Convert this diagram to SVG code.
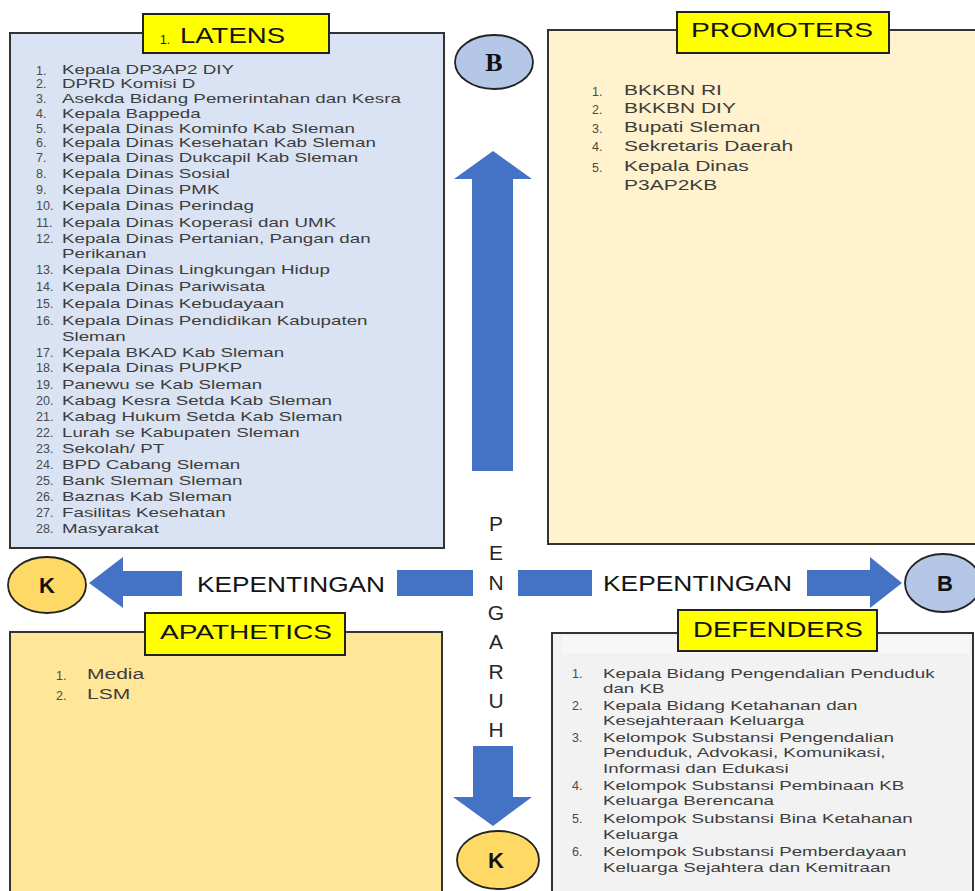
<svg xmlns="http://www.w3.org/2000/svg" width="975" height="891" viewBox="0 0 975 891">
<style>
.box{stroke:#333;stroke-width:2}
.lbl{fill:#ffff00;stroke:#222;stroke-width:2}
.t{font-family:"Liberation Sans",Arial,sans-serif;fill:#3d3d3d}
.n{font-family:"Liberation Sans",Arial,sans-serif;fill:#4a4a4a;font-size:12.5px}
.ls{font-size:13.4px}
.ps{font-size:15px}
.title{font-family:"Liberation Sans",Arial,sans-serif;fill:#141414}
.arrow{fill:#4472c4}
.circB{fill:#b4c7e7;stroke:#222;stroke-width:1.8}
.circK{fill:#ffd966;stroke:#222;stroke-width:1.8}
.cl{font-family:"Liberation Sans",Arial,sans-serif;font-weight:bold;font-size:22px;fill:#111;text-anchor:middle}
.peng{font-family:"Liberation Sans",Arial,sans-serif;font-size:21px;fill:#262626;text-anchor:middle}
</style>
<rect width="975" height="891" fill="#ffffff"/>

<g id="latens">
<rect class="box" x="10" y="33" width="434" height="515" fill="#dae3f3"/>
<rect class="lbl" x="143" y="14" width="186" height="39"/>
<text class="title" x="160" y="44" font-size="12">1.</text>
<text class="title" x="180" y="43" font-size="22.5" textLength="105" lengthAdjust="spacingAndGlyphs">LATENS</text>
<g class="n">
<text x="36" y="74.5">1.</text>
<text x="36" y="88">2.</text>
<text x="36" y="103">3.</text>
<text x="36" y="118">4.</text>
<text x="36" y="133">5.</text>
<text x="36" y="147">6.</text>
<text x="36" y="162">7.</text>
<text x="36" y="178">8.</text>
<text x="36" y="194">9.</text>
<text x="36" y="210">10.</text>
<text x="36" y="227">11.</text>
<text x="36" y="243">12.</text>
<text x="36" y="274">13.</text>
<text x="36" y="291">14.</text>
<text x="36" y="308">15.</text>
<text x="36" y="325">16.</text>
<text x="36" y="357">17.</text>
<text x="36" y="372">18.</text>
<text x="36" y="389">19.</text>
<text x="36" y="405">20.</text>
<text x="36" y="421">21.</text>
<text x="36" y="437">22.</text>
<text x="36" y="453">23.</text>
<text x="36" y="469">24.</text>
<text x="36" y="485">25.</text>
<text x="36" y="501">26.</text>
<text x="36" y="517">27.</text>
<text x="36" y="533">28.</text>
</g>
<g class="t ls" transform="translate(62,0) scale(1.4,1)">
<text x="0" y="74.5">Kepala DP3AP2 DIY</text>
<text x="0" y="88">DPRD Komisi D</text>
<text x="0" y="103">Asekda Bidang Pemerintahan dan Kesra</text>
<text x="0" y="118">Kepala Bappeda</text>
<text x="0" y="133">Kepala Dinas Kominfo Kab Sleman</text>
<text x="0" y="147">Kepala Dinas Kesehatan Kab Sleman</text>
<text x="0" y="162">Kepala Dinas Dukcapil Kab Sleman</text>
<text x="0" y="178">Kepala Dinas Sosial</text>
<text x="0" y="194">Kepala Dinas PMK</text>
<text x="0" y="210">Kepala Dinas Perindag</text>
<text x="0" y="227">Kepala Dinas Koperasi dan UMK</text>
<text x="0" y="243">Kepala Dinas Pertanian, Pangan dan</text>
<text x="0" y="258">Perikanan</text>
<text x="0" y="274">Kepala Dinas Lingkungan Hidup</text>
<text x="0" y="291">Kepala Dinas Pariwisata</text>
<text x="0" y="308">Kepala Dinas Kebudayaan</text>
<text x="0" y="325">Kepala Dinas Pendidikan Kabupaten</text>
<text x="0" y="341">Sleman</text>
<text x="0" y="357">Kepala BKAD Kab Sleman</text>
<text x="0" y="372">Kepala Dinas PUPKP</text>
<text x="0" y="389">Panewu se Kab Sleman</text>
<text x="0" y="405">Kabag Kesra Setda Kab Sleman</text>
<text x="0" y="421">Kabag Hukum Setda Kab Sleman</text>
<text x="0" y="437">Lurah se Kabupaten Sleman</text>
<text x="0" y="453">Sekolah/ PT</text>
<text x="0" y="469">BPD Cabang Sleman</text>
<text x="0" y="485">Bank Sleman Sleman</text>
<text x="0" y="501">Baznas Kab Sleman</text>
<text x="0" y="517">Fasilitas Kesehatan</text>
<text x="0" y="533">Masyarakat</text>
</g>
</g>

<g id="promoters">
<rect class="box" x="548" y="30" width="440" height="514" fill="#fff2cc"/>
<rect class="lbl" x="677" y="12" width="212" height="41"/>
<text class="title" x="691" y="37" font-size="21" textLength="182" lengthAdjust="spacingAndGlyphs">PROMOTERS</text>
<g class="n" font-size="14">
<text x="592" y="95.5">1.</text>
<text x="592" y="113.5">2.</text>
<text x="592" y="132.5">3.</text>
<text x="592" y="151">4.</text>
<text x="592" y="171.5">5.</text>
</g>
<g class="t ps" transform="translate(624,0) scale(1.4,1)">
<text x="0" y="95.5">BKKBN RI</text>
<text x="0" y="113.5">BKKBN DIY</text>
<text x="0" y="132.5">Bupati Sleman</text>
<text x="0" y="151">Sekretaris Daerah</text>
<text x="0" y="171.5">Kepala Dinas</text>
<text x="0" y="190">P3AP2KB</text>
</g>
</g>

<g id="apathetics">
<rect class="box" x="10" y="632" width="432" height="270" fill="#ffe699"/>
<rect class="lbl" x="145" y="613" width="200" height="42"/>
<text class="title" x="160" y="639" font-size="21" textLength="172" lengthAdjust="spacingAndGlyphs">APATHETICS</text>
<g class="n" font-size="14">
<text x="56" y="679.5">1.</text>
<text x="56" y="699.5">2.</text>
</g>
<g class="t ps" transform="translate(87,0) scale(1.4,1)">
<text x="0" y="679.5">Media</text>
<text x="0" y="699.5">LSM</text>
</g>
</g>

<g id="defenders">
<rect class="box" x="552" y="633" width="421" height="270" fill="#f2f2f2"/>
<rect x="562" y="636" width="408" height="17" fill="#f7f7f7"/>
<rect class="lbl" x="678" y="610" width="199" height="41"/>
<text class="title" x="693" y="637" font-size="22" textLength="170" lengthAdjust="spacingAndGlyphs">DEFENDERS</text>
<g class="n">
<text x="572" y="678">1.</text>
<text x="572" y="710">2.</text>
<text x="572" y="742">3.</text>
<text x="572" y="790">4.</text>
<text x="572" y="823">5.</text>
<text x="572" y="856">6.</text>
</g>
<g class="t ls" transform="translate(603,0) scale(1.4,1)">
<text x="0" y="678">Kepala Bidang Pengendalian Penduduk</text>
<text x="0" y="693">dan KB</text>
<text x="0" y="710">Kepala Bidang Ketahanan dan</text>
<text x="0" y="725">Kesejahteraan Keluarga</text>
<text x="0" y="742">Kelompok Substansi Pengendalian</text>
<text x="0" y="757">Penduduk, Advokasi, Komunikasi,</text>
<text x="0" y="773">Informasi dan Edukasi</text>
<text x="0" y="790">Kelompok Substansi Pembinaan KB</text>
<text x="0" y="805">Keluarga Berencana</text>
<text x="0" y="823">Kelompok Substansi Bina Ketahanan</text>
<text x="0" y="839">Keluarga</text>
<text x="0" y="856">Kelompok Substansi Pemberdayaan</text>
<text x="0" y="872">Keluarga Sejahtera dan Kemitraan</text>
</g>
</g>

<g id="connectors">
<polygon class="arrow" points="493,151 532,179 513,179 513,471 472,471 472,179 454,179"/>
<polygon class="arrow" points="493,826 532,797 513,797 513,746 473,746 473,797 453,797"/>
<polygon class="arrow" points="89,583 123,557 123,571 182,571 182,596 123,596 123,608"/>
<polygon class="arrow" points="902,583 870,557 870,570 807,570 807,596 870,596 870,608"/>
<rect class="arrow" x="397" y="570" width="76" height="26"/>
<rect class="arrow" x="518" y="570" width="74" height="26"/>
</g>

<g id="axis-labels">
<text class="title" x="197" y="592" font-size="22.5" textLength="188" lengthAdjust="spacingAndGlyphs" fill="#262626">KEPENTINGAN</text>
<text class="title" x="603" y="591" font-size="22.5" textLength="189" lengthAdjust="spacingAndGlyphs" fill="#262626">KEPENTINGAN</text>
<text class="peng" x="496" y="530.5">P</text>
<text class="peng" x="496" y="559.5">E</text>
<text class="peng" x="496" y="589.5">N</text>
<text class="peng" x="496" y="619.5">G</text>
<text class="peng" x="496" y="648.5">A</text>
<text class="peng" x="496" y="678.5">R</text>
<text class="peng" x="496" y="707.5">U</text>
<text class="peng" x="496" y="736.5">H</text>
</g>

<g id="circle-top-B">
<ellipse class="circB" cx="494" cy="62" rx="39" ry="27"/>
<text x="494" y="71" font-family="'Liberation Serif','Times New Roman',serif" font-weight="bold" font-size="26" fill="#111" text-anchor="middle">B</text>
</g>
<g id="circle-right-B">
<ellipse class="circB" cx="943" cy="583" rx="38" ry="29"/>
<text class="cl" x="945" y="591">B</text>
</g>
<g id="circle-left-K">
<ellipse class="circK" cx="47" cy="585" rx="39" ry="28"/>
<text class="cl" x="47" y="593">K</text>
</g>
<g id="circle-bottom-K">
<ellipse class="circK" cx="498" cy="860" rx="41" ry="29"/>
<text class="cl" x="496" y="868">K</text>
</g>
</svg>
